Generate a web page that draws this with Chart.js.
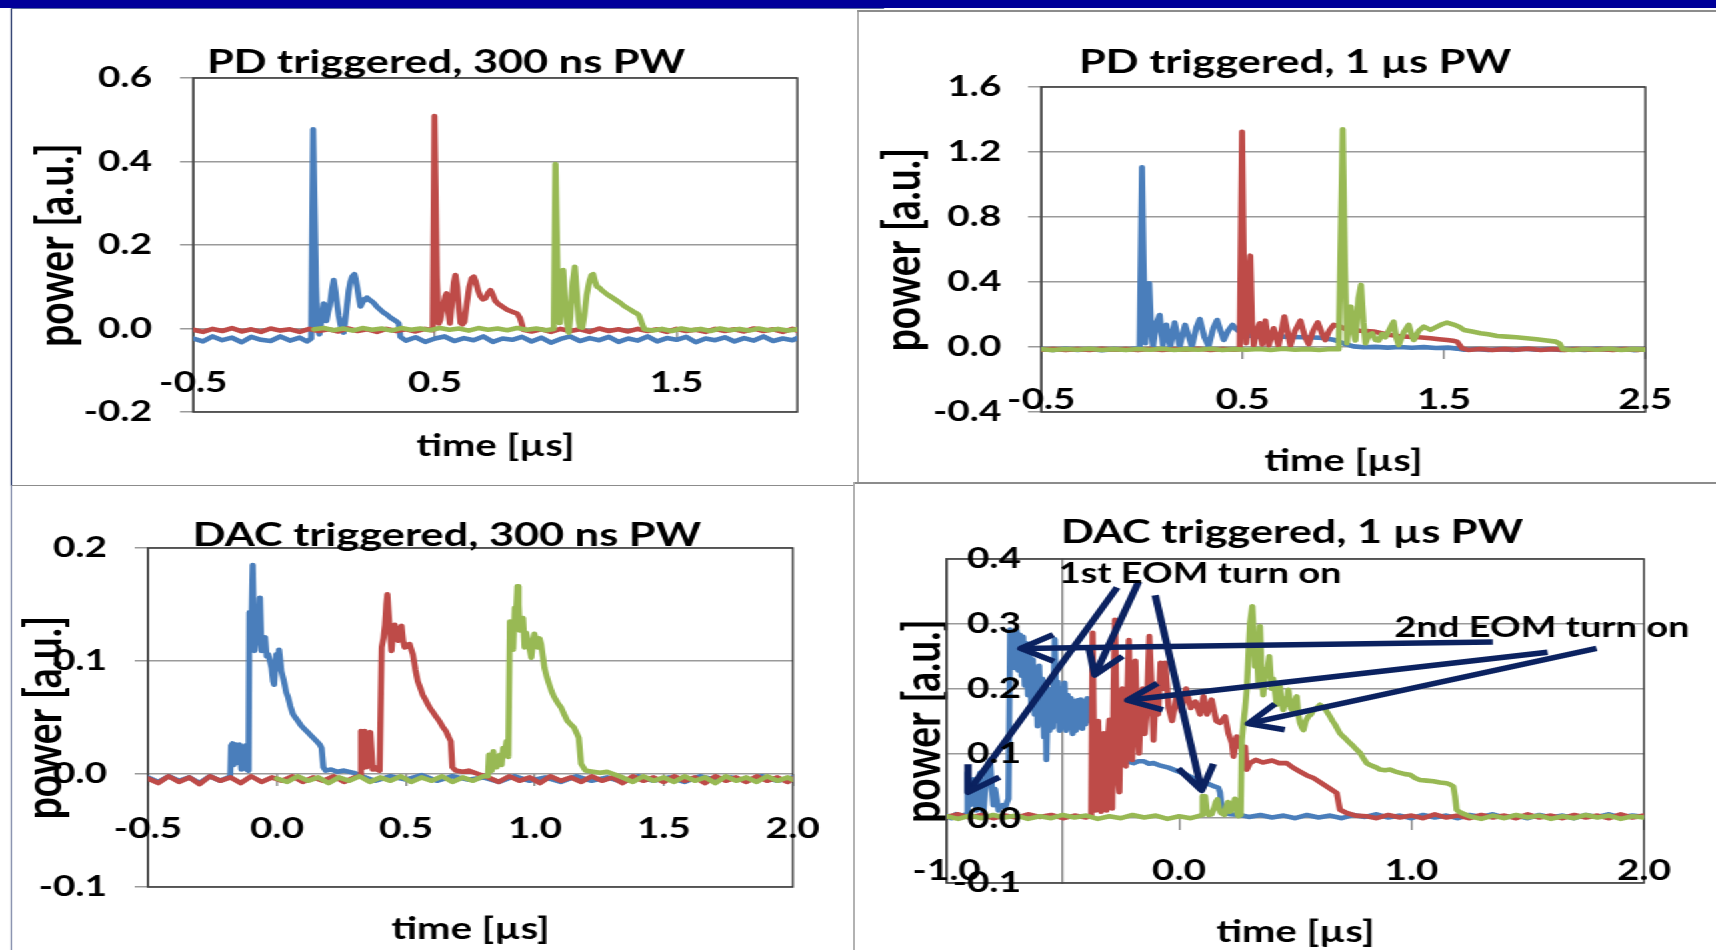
<!DOCTYPE html>
<html><head><meta charset="utf-8">
<script src="https://cdn.jsdelivr.net/npm/chart.js"></script>
<style>
html,body{margin:0;padding:0;background:#fff;width:1716px;height:950px;overflow:hidden;}
#stage{position:absolute;left:0;top:0;width:1287px;height:950px;transform:scaleX(1.3333333);transform-origin:0 0;}
.ln{position:absolute;}
canvas{position:absolute;}
</style></head><body>
<div id="stage">
  <div class="ln" style="left:0;top:0;width:1287px;height:7.5px;background:#000099"></div>
  <div class="ln" style="left:7.5px;top:8px;width:655.5px;height:1.2px;background:#5d6f9e"></div>
  <div class="ln" style="left:7.5px;top:8.5px;width:1.6px;height:476px;background:#1b2d63"></div>
  <div class="ln" style="left:7.5px;top:484.5px;width:632.5px;height:1.5px;background:#8c8c8c"></div>
  <div class="ln" style="left:642.75px;top:10px;width:1.5px;height:473px;background:#8c8c8c"></div>
  <div class="ln" style="left:642.75px;top:10px;width:644.25px;height:1.5px;background:#8c8c8c"></div>
  <div class="ln" style="left:640.5px;top:482px;width:646.5px;height:1.5px;background:#8c8c8c"></div>
  <div class="ln" style="left:640px;top:482px;width:1.2px;height:468px;background:#8c8c8c"></div>
  <div class="ln" style="left:7.5px;top:485px;width:1.5px;height:465px;background:#7c86a6"></div>
  <canvas id="c1" width="640" height="474" style="left:0px;top:10px;width:640px;height:474px"></canvas>
  <canvas id="c2" width="644" height="471" style="left:643px;top:11px;width:644px;height:471px"></canvas>
  <canvas id="c3" width="640" height="464" style="left:0px;top:486px;width:640px;height:464px"></canvas>
  <canvas id="c4" width="646" height="467" style="left:641px;top:483px;width:646px;height:467px"></canvas>
</div>
<script>
// ---------------- DATA ([time µs, power a.u.]) ----------------
const pdShortXTicks = [-0.5, 0.5, 1.5];
const pdShortYTicks = [-0.2, 0.0, 0.2, 0.4, 0.6];
const pdShortBlue = [
[-0.50,-0.024],[-0.46,-0.031],[-0.42,-0.019],[-0.38,-0.028],[-0.34,-0.022],[-0.30,-0.033],[-0.26,-0.020],[-0.22,-0.027],[-0.18,-0.030],[-0.14,-0.019],[-0.10,-0.029],[-0.06,-0.022],[-0.03,-0.031],[-0.012,-0.024],
[-0.004,0.477],[0.008,0.100],[0.014,0.002],[0.022,-0.014],[0.031,0.025],[0.040,0.060],[0.046,0.030],[0.051,0.018],[0.058,0.040],[0.065,0.055],[0.073,0.090],[0.081,0.116],[0.088,0.090],[0.095,0.058],[0.102,0.030],[0.109,0.010],[0.116,-0.006],[0.122,-0.010],[0.129,0.020],[0.136,0.055],[0.143,0.090],[0.150,0.112],[0.158,0.125],[0.167,0.130],[0.172,0.118],[0.178,0.100],[0.185,0.075],[0.192,0.053],[0.200,0.062],[0.206,0.070],[0.212,0.068],[0.219,0.074],[0.226,0.070],[0.236,0.066],[0.247,0.061],[0.260,0.052],[0.274,0.045],[0.288,0.038],[0.302,0.033],[0.316,0.026],[0.330,0.021],[0.343,0.016],[0.350,0.012],[0.357,-0.020],
[0.38,-0.029],[0.42,-0.021],[0.46,-0.032],[0.50,-0.024],[0.54,-0.019],[0.58,-0.030],[0.62,-0.023],[0.66,-0.028],[0.70,-0.019],[0.74,-0.032],[0.78,-0.024],[0.82,-0.027],[0.86,-0.020],[0.90,-0.031],[0.94,-0.022],[0.98,-0.034],[1.02,-0.025],[1.06,-0.019],[1.10,-0.030],[1.14,-0.023],[1.18,-0.028],[1.22,-0.020],[1.26,-0.032],[1.30,-0.024],[1.34,-0.029],[1.38,-0.019],[1.42,-0.031],[1.46,-0.023],[1.50,-0.027],[1.54,-0.020],[1.58,-0.033],[1.62,-0.024],[1.66,-0.028],[1.70,-0.021],[1.74,-0.031],[1.78,-0.023],[1.82,-0.029],[1.86,-0.019],[1.90,-0.030],[1.94,-0.024],[1.98,-0.028],[2.00,-0.023]
];
const pdShortRed = [
[-0.50,-0.003],[-0.46,-0.008],[-0.42,-0.001],[-0.38,-0.006],[-0.34,0.001],[-0.30,-0.007],[-0.26,-0.002],[-0.22,-0.008],[-0.18,0.000],[-0.14,-0.005],[-0.10,-0.002],[-0.06,-0.008],[-0.02,-0.001],[0.02,-0.006],[0.06,-0.002],[0.10,-0.007],[0.14,0.000],[0.18,-0.006],[0.22,-0.002],[0.26,-0.008],[0.30,-0.001],[0.34,-0.006],[0.38,-0.002],[0.42,-0.007],[0.46,-0.001],[0.491,-0.004],
[0.498,0.509],[0.508,0.120],[0.516,0.012],[0.522,0.020],[0.530,0.045],[0.537,0.060],[0.543,0.078],[0.548,0.084],[0.554,0.045],[0.562,0.012],[0.570,0.060],[0.578,0.110],[0.585,0.128],[0.592,0.100],[0.599,0.050],[0.606,0.013],[0.614,0.010],[0.622,0.016],[0.632,0.060],[0.642,0.100],[0.652,0.120],[0.661,0.124],[0.669,0.112],[0.679,0.090],[0.688,0.077],[0.698,0.070],[0.709,0.072],[0.720,0.085],[0.730,0.092],[0.740,0.080],[0.750,0.066],[0.760,0.060],[0.780,0.052],[0.799,0.045],[0.820,0.040],[0.840,0.036],[0.852,0.025],[0.860,0.010],[0.866,-0.003],
[0.90,-0.007],[0.94,-0.002],[0.98,-0.008],[1.02,-0.001],[1.06,-0.006],[1.10,-0.002],[1.14,-0.008],[1.18,0.000],[1.22,-0.006],[1.26,-0.002],[1.30,-0.007],[1.34,-0.001],[1.38,-0.006],[1.42,-0.002],[1.46,-0.008],[1.50,-0.001],[1.54,-0.006],[1.58,-0.003],[1.62,-0.008],[1.66,-0.001],[1.70,-0.006],[1.74,-0.002],[1.78,-0.007],[1.82,0.000],[1.86,-0.006],[1.90,-0.002],[1.94,-0.008],[1.98,-0.001],[2.00,-0.005]
];
const pdShortGreen = [
[0.00,-0.002],[0.04,0.001],[0.08,-0.004],[0.12,0.000],[0.16,-0.005],[0.20,0.001],[0.24,-0.003],[0.28,0.000],[0.32,-0.005],[0.36,0.001],[0.40,-0.003],[0.44,0.000],[0.48,-0.004],[0.52,0.001],[0.56,-0.003],[0.60,0.000],[0.64,-0.005],[0.68,0.001],[0.72,-0.003],[0.76,0.000],[0.80,-0.004],[0.84,0.001],[0.88,-0.003],[0.92,0.000],[0.96,-0.004],[0.992,-0.001],
[0.999,0.394],[1.008,0.120],[1.017,0.013],[1.024,0.075],[1.031,0.140],[1.039,0.065],[1.047,0.012],[1.054,-0.010],[1.061,0.030],[1.070,0.110],[1.079,0.148],[1.088,0.080],[1.095,0.020],[1.100,0.004],[1.110,0.002],[1.118,0.030],[1.128,0.080],[1.140,0.115],[1.148,0.128],[1.155,0.130],[1.163,0.112],[1.171,0.100],[1.180,0.098],[1.190,0.092],[1.199,0.088],[1.212,0.082],[1.226,0.077],[1.240,0.072],[1.255,0.066],[1.268,0.061],[1.283,0.054],[1.297,0.049],[1.309,0.045],[1.322,0.040],[1.335,0.036],[1.344,0.032],[1.352,0.020],[1.358,0.010],[1.367,-0.002],
[1.40,-0.005],[1.44,-0.001],[1.48,-0.006],[1.52,0.000],[1.56,-0.004],[1.60,-0.001],[1.64,-0.006],[1.68,0.000],[1.72,-0.004],[1.76,-0.001],[1.80,-0.005],[1.84,0.000],[1.88,-0.004],[1.92,-0.001],[1.96,-0.005],[2.00,-0.002]
];

const pdLongXTicks = [-0.5, 0.5, 1.5, 2.5];
const pdLongYTicks = [-0.4, 0.0, 0.4, 0.8, 1.2, 1.6];
const pdLongBlue = [
[-0.50,-0.013],[-0.44,-0.019],[-0.38,-0.011],[-0.32,-0.018],[-0.26,-0.012],[-0.20,-0.020],[-0.14,-0.013],[-0.08,-0.017],[-0.04,-0.011],[-0.012,-0.016],
[0.000,1.106],[0.008,0.500],[0.017,0.023],[0.026,0.250],[0.036,0.392],[0.046,0.100],[0.055,0.002],[0.072,0.150],[0.088,0.197],[0.097,0.080],[0.104,0.012],[0.121,0.136],[0.141,0.002],[0.162,0.150],[0.187,0.002],[0.214,0.136],[0.248,0.002],[0.270,0.120],[0.287,0.172],[0.310,0.060],[0.331,0.005],[0.355,0.120],[0.373,0.166],[0.390,0.100],[0.406,0.043],[0.428,0.100],[0.450,0.136],[0.472,0.105],[0.500,0.080],[0.550,0.066],[0.600,0.062],[0.650,0.066],[0.700,0.064],[0.750,0.062],[0.800,0.060],[0.850,0.058],[0.900,0.056],[0.950,0.045],[1.000,0.023],[1.050,0.004],[1.100,-0.002],[1.160,0.001],[1.220,-0.004],[1.280,0.000],[1.340,-0.005],[1.400,-0.001],[1.460,-0.006],[1.520,-0.004],[1.565,-0.010],
[1.60,-0.017],[1.66,-0.012],[1.72,-0.019],[1.78,-0.013],[1.84,-0.018],[1.90,-0.011],[1.96,-0.017],[2.02,-0.012],[2.08,-0.019],[2.14,-0.013],[2.20,-0.018],[2.26,-0.011],[2.32,-0.017],[2.38,-0.012],[2.44,-0.019],[2.50,-0.014]
];
const pdLongRed = [
[-0.50,-0.017],[-0.44,-0.012],[-0.38,-0.019],[-0.32,-0.013],[-0.26,-0.018],[-0.20,-0.011],[-0.14,-0.017],[-0.08,-0.013],[-0.02,-0.019],[0.04,-0.012],[0.10,-0.018],[0.16,-0.013],[0.22,-0.017],[0.28,-0.011],[0.34,-0.018],[0.40,-0.013],[0.46,-0.017],[0.485,-0.014],
[0.497,1.325],[0.507,0.350],[0.517,0.023],[0.528,0.420],[0.538,0.562],[0.547,0.120],[0.555,0.010],[0.570,0.100],[0.585,0.146],[0.597,0.015],[0.613,0.162],[0.630,0.010],[0.654,0.115],[0.678,0.008],[0.707,0.187],[0.737,0.010],[0.760,0.100],[0.787,0.162],[0.810,0.060],[0.828,0.018],[0.850,0.100],[0.873,0.152],[0.895,0.080],[0.910,0.043],[0.930,0.100],[0.952,0.136],[0.985,0.126],[1.018,0.105],[1.050,0.108],[1.080,0.100],[1.115,0.098],[1.151,0.095],[1.190,0.085],[1.234,0.074],[1.275,0.068],[1.317,0.064],[1.375,0.060],[1.433,0.054],[1.475,0.048],[1.515,0.043],[1.545,0.038],[1.565,0.033],[1.590,-0.008],
[1.62,-0.018],[1.68,-0.012],[1.74,-0.019],[1.80,-0.013],[1.86,-0.017],[1.92,-0.011],[1.98,-0.018],[2.04,-0.013],[2.10,-0.019],[2.16,-0.012],[2.22,-0.017],[2.28,-0.013],[2.34,-0.019],[2.40,-0.012],[2.46,-0.018],[2.50,-0.014]
];
const pdLongGreen = [
[-0.50,-0.014],[-0.44,-0.019],[-0.38,-0.012],[-0.32,-0.017],[-0.26,-0.011],[-0.20,-0.018],[-0.14,-0.013],[-0.08,-0.019],[-0.02,-0.012],[0.04,-0.017],[0.10,-0.011],[0.16,-0.018],[0.22,-0.013],[0.28,-0.017],[0.34,-0.011],[0.40,-0.019],[0.46,-0.013],[0.52,-0.017],[0.58,-0.012],[0.64,-0.018],[0.70,-0.011],[0.76,-0.017],[0.82,-0.013],[0.88,-0.018],[0.94,-0.012],[0.977,-0.014],
[0.997,1.340],[1.008,0.500],[1.018,0.023],[1.028,0.200],[1.038,0.248],[1.048,0.100],[1.060,0.040],[1.075,0.300],[1.088,0.382],[1.100,0.150],[1.110,0.023],[1.125,0.070],[1.143,0.084],[1.160,0.043],[1.176,0.040],[1.192,0.080],[1.209,0.060],[1.230,0.110],[1.250,0.156],[1.262,0.060],[1.275,0.012],[1.300,0.090],[1.325,0.136],[1.338,0.080],[1.350,0.043],[1.375,0.100],[1.400,0.125],[1.433,0.105],[1.466,0.125],[1.490,0.140],[1.515,0.150],[1.548,0.138],[1.575,0.125],[1.598,0.105],[1.640,0.095],[1.681,0.085],[1.720,0.078],[1.764,0.068],[1.810,0.064],[1.860,0.060],[1.910,0.054],[1.960,0.048],[2.010,0.040],[2.055,0.033],[2.075,0.020],[2.090,-0.014],
[2.14,-0.018],[2.20,-0.012],[2.26,-0.017],[2.32,-0.011],[2.38,-0.018],[2.44,-0.013],[2.50,-0.016]
];

const dacShortXTicks = [-0.5, 0.0, 0.5, 1.0, 1.5, 2.0];
const dacShortYTicks = [-0.1, 0.0, 0.1, 0.2];
const dacShortBlue = [
[-0.50,-0.003],[-0.46,-0.007],[-0.42,-0.002],[-0.38,-0.006],[-0.34,-0.003],[-0.30,-0.008],[-0.26,-0.002],[-0.22,-0.006],[-0.19,-0.003],[-0.181,-0.002],
[-0.178,0.025],[-0.172,0.027],[-0.167,0.008],[-0.160,0.026],[-0.153,0.010],[-0.145,0.026],[-0.138,0.004],[-0.130,0.022],[-0.122,0.025],[-0.117,0.004],[-0.110,0.003],
[-0.107,0.143],[-0.100,0.118],[-0.094,0.185],[-0.087,0.109],[-0.082,0.120],[-0.078,0.132],[-0.072,0.120],[-0.066,0.156],[-0.060,0.109],[-0.053,0.118],[-0.046,0.121],[-0.040,0.104],[-0.034,0.106],[-0.027,0.100],[-0.021,0.094],[-0.015,0.082],[-0.011,0.079],[-0.006,0.095],[-0.002,0.106],[0.003,0.098],[0.008,0.110],[0.013,0.100],[0.017,0.091],[0.024,0.085],[0.030,0.079],[0.036,0.072],[0.043,0.068],[0.052,0.060],[0.062,0.053],[0.071,0.050],[0.081,0.047],[0.093,0.043],[0.106,0.040],[0.119,0.037],[0.132,0.034],[0.145,0.031],[0.158,0.028],[0.166,0.026],[0.173,0.023],[0.180,0.006],[0.189,0.003],[0.210,0.004],[0.234,0.002],[0.260,0.003],[0.298,0.001],[0.33,-0.002],
[0.38,-0.006],[0.44,-0.002],[0.50,-0.005],[0.56,-0.001],[0.62,-0.006],[0.68,-0.002],[0.74,-0.005],[0.80,-0.003],[0.86,-0.007],[0.92,-0.002],[0.98,-0.006],[1.04,-0.003],[1.10,-0.007],[1.16,-0.002],[1.22,-0.006],[1.28,-0.003],[1.34,-0.007],[1.40,-0.002],[1.46,-0.006],[1.52,-0.003],[1.58,-0.007],[1.64,-0.002],[1.70,-0.005],[1.76,-0.003],[1.82,-0.006],[1.88,-0.002],[1.94,-0.006],[2.00,-0.003]
];
const dacShortRed = [
[-0.50,-0.004],[-0.46,-0.008],[-0.42,-0.002],[-0.38,-0.007],[-0.34,-0.003],[-0.30,-0.009],[-0.26,-0.002],[-0.22,-0.006],[-0.18,-0.003],[-0.14,-0.008],[-0.10,-0.002],[-0.06,-0.007],[-0.02,-0.003],[0.02,-0.006],[0.06,-0.002],[0.10,-0.007],[0.14,-0.003],[0.18,-0.006],[0.22,-0.002],[0.26,-0.007],[0.30,-0.003],[0.323,-0.002],
[0.326,0.038],[0.332,0.005],[0.340,0.038],[0.348,0.006],[0.356,0.030],[0.362,0.037],[0.371,0.004],[0.380,0.006],[0.387,0.004],[0.398,0.003],
[0.406,0.112],[0.413,0.120],[0.419,0.132],[0.424,0.150],[0.428,0.159],[0.436,0.132],[0.444,0.109],[0.450,0.125],[0.457,0.132],[0.464,0.120],[0.470,0.118],[0.477,0.128],[0.483,0.131],[0.489,0.118],[0.495,0.112],[0.505,0.114],[0.514,0.115],[0.521,0.110],[0.527,0.106],[0.537,0.092],[0.546,0.082],[0.556,0.076],[0.565,0.070],[0.575,0.066],[0.584,0.062],[0.594,0.058],[0.604,0.055],[0.616,0.051],[0.629,0.047],[0.642,0.042],[0.655,0.038],[0.665,0.033],[0.674,0.029],[0.680,0.006],[0.693,0.003],[0.720,0.002],[0.743,0.003],[0.780,0.000],[0.82,-0.003],
[0.86,-0.007],[0.90,-0.002],[0.94,-0.006],[0.98,-0.003],[1.02,-0.008],[1.06,-0.002],[1.10,-0.006],[1.14,-0.003],[1.18,-0.007],[1.22,-0.002],[1.26,-0.006],[1.30,-0.003],[1.34,-0.008],[1.38,-0.002],[1.42,-0.006],[1.46,-0.003],[1.50,-0.007],[1.54,-0.002],[1.58,-0.006],[1.62,-0.003],[1.66,-0.008],[1.70,-0.002],[1.74,-0.006],[1.78,-0.003],[1.82,-0.007],[1.86,-0.002],[1.90,-0.006],[1.94,-0.003],[1.98,-0.007],[2.00,-0.004]
];
const dacShortGreen = [
[0.00,-0.004],[0.04,-0.007],[0.08,-0.002],[0.12,-0.006],[0.16,-0.003],[0.20,-0.008],[0.24,-0.003],[0.28,-0.006],[0.32,-0.002],[0.36,-0.007],[0.40,-0.003],[0.44,-0.006],[0.48,-0.002],[0.52,-0.007],[0.56,-0.003],[0.60,-0.006],[0.64,-0.002],[0.68,-0.007],[0.72,-0.003],[0.76,-0.006],[0.80,-0.002],[0.818,-0.002],
[0.822,0.017],[0.828,0.008],[0.833,0.003],[0.839,0.020],[0.846,0.010],[0.852,0.006],[0.859,0.015],[0.865,0.017],[0.871,0.008],[0.877,0.023],[0.884,0.020],[0.890,0.029],[0.897,0.015],
[0.903,0.135],[0.910,0.128],[0.916,0.110],[0.922,0.147],[0.927,0.140],[0.932,0.166],[0.937,0.150],[0.941,0.127],[0.947,0.130],[0.954,0.138],[0.960,0.112],[0.966,0.125],[0.973,0.118],[0.980,0.110],[0.986,0.103],[0.992,0.115],[0.998,0.124],[1.005,0.118],[1.011,0.112],[1.018,0.120],[1.024,0.115],[1.031,0.104],[1.037,0.094],[1.046,0.086],[1.056,0.079],[1.065,0.073],[1.075,0.068],[1.088,0.063],[1.101,0.059],[1.113,0.053],[1.126,0.047],[1.139,0.044],[1.152,0.041],[1.162,0.036],[1.170,0.032],[1.179,0.009],[1.196,0.003],[1.225,0.002],[1.253,0.001],[1.280,0.002],[1.304,0.000],[1.34,-0.003],
[1.38,-0.007],[1.42,-0.002],[1.46,-0.006],[1.50,-0.003],[1.54,-0.007],[1.58,-0.002],[1.62,-0.006],[1.66,-0.003],[1.70,-0.008],[1.74,-0.002],[1.78,-0.006],[1.82,-0.003],[1.86,-0.007],[1.90,-0.002],[1.94,-0.006],[1.98,-0.003],[2.00,-0.005]
];

const dacLongXTicks = [-1.0, 0.0, 1.0, 2.0];
const dacLongYTicks = [-0.1, 0.0, 0.1, 0.2, 0.3, 0.4];
const dacLongBlue = [
[-1.00,0.004],[-0.98,0.000],[-0.96,0.006],[-0.94,0.001],[-0.925,0.005],[-0.913,0.002],
[-0.910,0.070],[-0.905,0.040],[-0.899,0.020],[-0.892,0.055],[-0.885,0.060],[-0.878,0.030],[-0.871,0.012],[-0.864,0.050],[-0.856,0.070],[-0.849,0.030],[-0.842,0.008],[-0.835,0.040],[-0.828,0.060],[-0.820,0.085],[-0.813,0.090],[-0.806,0.050],[-0.799,0.020],[-0.792,0.045],[-0.785,0.030],[-0.777,0.012],[-0.770,0.018],[-0.760,0.020],[-0.748,0.016],[-0.740,0.025],[-0.734,0.030],
[-0.727,0.291],[-0.720,0.240],[-0.713,0.285],[-0.706,0.232],[-0.699,0.290],[-0.692,0.228],[-0.685,0.283],[-0.678,0.220],[-0.671,0.280],[-0.664,0.205],[-0.657,0.270],[-0.650,0.190],[-0.643,0.255],[-0.636,0.175],[-0.629,0.245],[-0.622,0.160],[-0.615,0.230],[-0.609,0.142],[-0.602,0.235],[-0.595,0.150],[-0.588,0.215],[-0.581,0.125],[-0.575,0.205],[-0.571,0.090],[-0.564,0.200],[-0.557,0.135],[-0.550,0.190],[-0.543,0.140],[-0.535,0.276],[-0.528,0.150],[-0.521,0.210],[-0.514,0.135],[-0.507,0.200],[-0.500,0.140],[-0.493,0.209],[-0.486,0.135],[-0.479,0.190],[-0.472,0.140],[-0.465,0.185],[-0.458,0.130],[-0.451,0.180],[-0.444,0.135],[-0.437,0.182],[-0.430,0.140],[-0.423,0.183],[-0.416,0.138],[-0.409,0.180],[-0.402,0.145],[-0.395,0.185],[-0.388,0.150],[-0.380,0.160],[-0.370,0.140],[-0.360,0.130],[-0.350,0.128],[-0.340,0.121],[-0.325,0.118],[-0.311,0.116],[-0.296,0.110],[-0.282,0.106],[-0.260,0.098],[-0.239,0.090],[-0.218,0.087],[-0.196,0.085],[-0.175,0.088],[-0.153,0.088],[-0.130,0.084],[-0.110,0.085],[-0.088,0.082],[-0.067,0.080],[-0.045,0.078],[-0.024,0.075],[0.005,0.071],[0.033,0.067],[0.055,0.063],[0.076,0.059],[0.098,0.056],[0.119,0.054],[0.145,0.050],[0.169,0.047],[0.176,0.040],[0.183,0.018],[0.191,0.008],[0.220,0.006],[0.262,0.005],[0.30,0.002],
[0.35,0.005],[0.40,0.001],[0.45,0.004],[0.50,0.000],[0.55,0.005],[0.60,0.001],[0.65,0.004],[0.70,0.000],[0.75,0.005],[0.80,0.002],[0.85,0.006],[0.90,0.001],[0.95,0.004],[1.00,0.000],[1.05,0.005],[1.10,0.001],[1.15,0.004],[1.20,0.000],[1.25,0.005],[1.30,0.002],[1.35,0.006],[1.40,0.001],[1.45,0.004],[1.50,0.000],[1.55,0.005],[1.60,0.001],[1.65,0.004],[1.70,0.000],[1.75,0.005],[1.80,0.002],[1.85,0.006],[1.90,0.001],[1.95,0.004],[2.00,0.002]
];
const dacLongRed = [
[-1.00,0.002],[-0.95,0.006],[-0.90,0.001],[-0.85,0.005],[-0.80,0.000],[-0.75,0.004],[-0.70,0.001],[-0.65,0.006],[-0.60,0.002],[-0.55,0.005],[-0.50,0.000],[-0.45,0.004],[-0.40,0.001],[-0.378,0.004],
[-0.372,0.286],[-0.366,0.120],[-0.360,0.012],[-0.354,0.080],[-0.348,0.150],[-0.342,0.060],[-0.336,0.010],[-0.330,0.090],[-0.324,0.131],[-0.318,0.040],[-0.312,0.012],[-0.306,0.120],[-0.300,0.152],[-0.294,0.050],[-0.288,0.015],[-0.282,0.200],[-0.276,0.306],[-0.270,0.180],[-0.263,0.060],[-0.257,0.040],[-0.250,0.180],[-0.244,0.200],[-0.236,0.100],[-0.229,0.080],[-0.222,0.200],[-0.216,0.275],[-0.209,0.150],[-0.202,0.090],[-0.196,0.180],[-0.188,0.243],[-0.180,0.140],[-0.172,0.100],[-0.164,0.180],[-0.156,0.200],[-0.148,0.130],[-0.140,0.160],[-0.128,0.281],[-0.118,0.200],[-0.110,0.120],[-0.100,0.200],[-0.090,0.160],[-0.080,0.240],[-0.070,0.200],[-0.060,0.240],[-0.045,0.170],[-0.030,0.150],[-0.010,0.190],[0.010,0.165],[0.030,0.200],[0.050,0.170],[0.070,0.180],[0.090,0.160],[0.105,0.188],[0.120,0.160],[0.140,0.183],[0.160,0.150],[0.176,0.147],[0.198,0.157],[0.212,0.131],[0.227,0.116],[0.234,0.095],[0.248,0.126],[0.262,0.110],[0.284,0.110],[0.291,0.075],[0.305,0.085],[0.330,0.090],[0.360,0.086],[0.400,0.089],[0.430,0.085],[0.463,0.085],[0.490,0.078],[0.520,0.072],[0.550,0.066],[0.578,0.062],[0.605,0.056],[0.635,0.049],[0.660,0.043],[0.678,0.039],[0.692,0.013],[0.721,0.008],[0.760,0.004],[0.807,0.003],
[0.85,0.000],[0.90,0.005],[0.95,0.001],[1.00,0.004],[1.05,0.000],[1.10,0.006],[1.15,0.001],[1.20,0.004],[1.25,0.000],[1.30,0.005],[1.35,0.001],[1.40,0.004],[1.45,0.000],[1.50,0.006],[1.55,0.001],[1.60,0.004],[1.65,0.000],[1.70,0.005],[1.75,0.001],[1.80,0.004],[1.85,0.000],[1.90,0.006],[1.95,0.001],[2.00,0.004]
];
const dacLongGreen = [
[-1.00,0.003],[-0.95,-0.001],[-0.90,0.004],[-0.85,0.000],[-0.80,0.005],[-0.75,0.001],[-0.70,0.004],[-0.65,-0.001],[-0.60,0.003],[-0.55,0.000],[-0.50,0.005],[-0.45,0.001],[-0.40,0.004],[-0.35,-0.001],[-0.30,0.003],[-0.25,0.000],[-0.20,0.005],[-0.15,0.001],[-0.10,0.004],[-0.05,-0.001],[0.00,0.003],[0.05,0.000],[0.09,0.004],
[0.097,0.005],[0.101,0.034],[0.106,0.015],[0.112,0.034],[0.120,0.010],[0.127,0.005],[0.140,0.006],[0.150,0.015],[0.158,0.025],[0.165,0.029],[0.172,0.015],[0.180,0.008],[0.195,0.005],[0.203,0.018],[0.210,0.025],[0.220,0.010],[0.230,0.020],[0.240,0.030],[0.248,0.010],[0.255,0.003],[0.265,0.005],
[0.270,0.121],[0.277,0.147],[0.284,0.170],[0.291,0.198],[0.298,0.250],[0.305,0.301],[0.315,0.327],[0.322,0.280],[0.326,0.234],[0.333,0.270],[0.341,0.210],[0.348,0.296],[0.355,0.224],[0.362,0.190],[0.370,0.230],[0.377,0.219],[0.388,0.250],[0.398,0.200],[0.405,0.215],[0.412,0.198],[0.420,0.175],[0.427,0.195],[0.434,0.203],[0.441,0.180],[0.448,0.167],[0.456,0.185],[0.463,0.175],[0.470,0.198],[0.480,0.170],[0.490,0.165],[0.498,0.180],[0.506,0.188],[0.513,0.160],[0.520,0.147],[0.528,0.140],[0.535,0.136],[0.545,0.150],[0.556,0.157],[0.567,0.160],[0.578,0.167],[0.592,0.170],[0.606,0.175],[0.617,0.172],[0.627,0.170],[0.638,0.163],[0.649,0.157],[0.660,0.150],[0.670,0.145],[0.681,0.138],[0.692,0.131],[0.706,0.126],[0.721,0.121],[0.735,0.116],[0.750,0.111],[0.764,0.106],[0.778,0.101],[0.792,0.093],[0.807,0.085],[0.822,0.082],[0.836,0.080],[0.850,0.078],[0.864,0.075],[0.886,0.074],[0.908,0.075],[0.930,0.072],[0.951,0.070],[0.972,0.068],[0.994,0.067],[1.015,0.062],[1.036,0.059],[1.065,0.058],[1.094,0.057],[1.122,0.055],[1.151,0.054],[1.166,0.052],[1.180,0.049],[1.187,0.034],[1.194,0.013],[1.209,0.009],[1.25,0.003],
[1.30,-0.001],[1.35,0.004],[1.40,0.000],[1.45,0.005],[1.50,0.001],[1.55,0.004],[1.60,-0.001],[1.65,0.003],[1.70,0.000],[1.75,0.005],[1.80,0.001],[1.85,0.004],[1.90,-0.001],[1.95,0.003],[2.00,0.001]
];

// annotation arrows in data units of the DAC 1 µs panel: [fromT, fromP, toT, toP]
const eomArrows = [
[-0.267,0.356,-0.908,0.040],
[-0.174,0.365,-0.363,0.221],
[-0.103,0.344,0.097,0.043],
[1.350,0.272,-0.681,0.262],
[1.585,0.256,-0.221,0.182],
[1.796,0.262,0.298,0.146]
];
const eomLabels = [["1st EOM turn on", 0.090, 0.363], ["2nd EOM turn on", 1.561, 0.280]];

// ---------------- RENDERING ----------------
const FONT = "Lato, 'Open Sans', 'DejaVu Sans', sans-serif";
const COLORS = {blue: '#4A7EBB', red: '#BE4B48', green: '#98B954'};
const GRID = '#9a9a9a';
Chart.defaults.font.family = FONT;

const toXY = arr => arr.map(([x, y]) => ({x, y}));

const titlePlugin = {
  id: 'panelTitle',
  afterDraw(chart, args, o) {
    const ctx = chart.ctx;
    ctx.save();
    ctx.font = `bold ${o.size}px ${FONT}`;
    ctx.fillStyle = '#000';
    ctx.textAlign = 'center';
    ctx.textBaseline = 'alphabetic';
    ctx.fillText(o.text, o.x, o.y);
    ctx.restore();
  }
};
const framePlugin = {
  id: 'plotFrame',
  beforeDatasetsDraw(chart) {
    const {ctx, chartArea: a} = chart;
    ctx.save();
    ctx.strokeStyle = '#3c3c3c';
    ctx.lineWidth = 1.5;
    ctx.strokeRect(a.left, a.top, a.right - a.left, a.bottom - a.top);
    ctx.restore();
  }
};
const arrowPlugin = {
  id: 'eomArrows',
  afterDatasetsDraw(chart, args, o) {
    if (!o.arrows) return;
    const {ctx, scales: {x, y}} = chart;
    ctx.save();
    ctx.strokeStyle = o.color;
    ctx.lineWidth = o.width;
    ctx.lineCap = 'butt';
    ctx.lineJoin = 'round';
    for (const [t0, p0, t1, p1] of o.arrows) {
      const x0 = x.getPixelForValue(t0), y0 = y.getPixelForValue(p0);
      const x1 = x.getPixelForValue(t1), y1 = y.getPixelForValue(p1);
      ctx.beginPath(); ctx.moveTo(x0, y0); ctx.lineTo(x1, y1); ctx.stroke();
      const ang = Math.atan2(y0 - y1, x0 - x1);
      ctx.beginPath();
      ctx.moveTo(x1 + o.head * Math.cos(ang + 0.5), y1 + o.head * Math.sin(ang + 0.5));
      ctx.lineTo(x1, y1);
      ctx.lineTo(x1 + o.head * Math.cos(ang - 0.5), y1 + o.head * Math.sin(ang - 0.5));
      ctx.stroke();
    }
    ctx.font = `bold ${o.fontSize}px ${FONT}`;
    ctx.fillStyle = '#000';
    ctx.textAlign = 'center';
    ctx.textBaseline = 'alphabetic';
    for (const [txt, t, p] of o.labels) {
      ctx.fillText(txt, x.getPixelForValue(t), y.getPixelForValue(p));
    }
    ctx.restore();
  }
};

function buildChart(id, p) {
  const common = {borderWidth: 4.6, pointRadius: 0, pointHoverRadius: 0, tension: 0, fill: false, borderJoinStyle: 'round', borderCapStyle: 'round'};
  const datasets = [
    Object.assign({label: 'green', data: toXY(p.green), borderColor: COLORS.green, order: 0}, common),
    Object.assign({label: 'red', data: toXY(p.red), borderColor: COLORS.red, order: 1}, common),
    Object.assign({label: 'blue', data: toXY(p.blue), borderColor: COLORS.blue, order: 2}, common)
  ];
  const tickFont = {family: FONT, size: 29, weight: 'bold'};
  const fmt = v => Number(v).toFixed(1);
  const scales = {
    x: {
      type: 'linear', axis: 'x', position: {y: 0}, min: p.xMin, max: p.xMax,
      afterBuildTicks: s => { s.ticks = p.xTicks.map(v => ({value: v})); },
      ticks: {callback: fmt, font: tickFont, color: '#000', padding: p.xLabelPad, maxRotation: 0, minRotation: 0, autoSkip: false, z: 1},
      grid: {display: true, drawOnChartArea: false, drawTicks: true, tickLength: 12, color: '#8c8c8c', lineWidth: 1.5},
      border: {display: false}
    },
    xt: {
      type: 'linear', axis: 'x', position: 'bottom', min: p.xMin, max: p.xMax,
      ticks: {display: false}, grid: {display: false}, border: {display: false},
      title: {display: true, text: 'time [µs]', color: '#000', font: {family: FONT, size: 30, weight: 'bold'}, padding: {top: 0, bottom: p.xTitlePad}},
      afterFit: s => { s.height = p.xtHeight; }
    },
    y: {
      type: 'linear', axis: 'y', position: 'left', min: p.yMin, max: p.yMax,
      afterBuildTicks: s => { s.ticks = p.yTicks.map(v => ({value: v})); },
      ticks: {display: p.yLabelAt === undefined, callback: fmt, font: tickFont, color: '#000', padding: p.yLabelPad, autoSkip: false},
      grid: {color: GRID, lineWidth: 1.5, drawTicks: p.yDrawTicks, tickLength: 10},
      border: {display: true, color: '#6f6f6f', width: 1.5},
      title: {display: true, text: 'power [a.u.]', color: '#000', font: {family: FONT, size: 39, weight: 'bold'}, padding: {top: p.yTitlePad, bottom: 0}},
      afterFit: s => { s.width = p.yWidth; }
    }
  };
  if (p.yAxisAt !== undefined) {
    scales.ya = {
      type: 'linear', axis: 'y', position: {x: p.yAxisAt}, min: p.yMin, max: p.yMax,
      ticks: {display: false}, grid: {display: false},
      border: {display: true, color: '#8c8c8c', width: 1.5}
    };
  }
  if (p.yLabelAt !== undefined) {
    scales.yl = {
      type: 'linear', axis: 'y', position: {x: p.yLabelAt}, min: p.yMin, max: p.yMax,
      afterBuildTicks: s => { s.ticks = p.yTicks.map(v => ({value: v})); },
      ticks: {callback: fmt, font: tickFont, color: '#000', padding: 0, autoSkip: false, z: 1},
      grid: {display: false, drawTicks: false}, border: {display: false}
    };
  }
  return new Chart(document.getElementById(id), {
    type: 'line',
    data: {datasets},
    options: {
      responsive: false, animation: false, devicePixelRatio: 1,
      layout: {padding: {left: 0, right: p.padRight, top: p.padTop, bottom: 0}},
      scales,
      plugins: {
        legend: {display: false}, tooltip: {enabled: false}, title: {display: false},
        panelTitle: {text: p.title, x: p.titleX, y: p.titleY, size: 32.5},
        eomArrows: {arrows: p.arrows, labels: p.labels || [], color: '#0B2260', width: 5.5, head: 28, fontSize: 28.5}
      }
    },
    plugins: [framePlugin, titlePlugin, arrowPlugin]
  });
}

buildChart('c1', {
  title: 'PD triggered, 300 ns PW', titleX: 334.5, titleY: 63,
  blue: pdShortBlue, red: pdShortRed, green: pdShortGreen,
  xMin: -0.5, xMax: 2.0, xTicks: pdShortXTicks, yMin: -0.2, yMax: 0.6, yTicks: pdShortYTicks,
  yWidth: 145, padRight: 42, padTop: 68, xtHeight: 72,
  xLabelPad: 25.1, yLabelPad: 21, yDrawTicks: true, yTitlePad: 18.6, xTitlePad: 20
});
buildChart('c2', {
  title: 'PD triggered, 1 µs PW', titleX: 328.25, titleY: 62,
  blue: pdLongBlue, red: pdLongRed, green: pdLongGreen,
  xMin: -0.5, xMax: 2.5, xTicks: pdLongXTicks, yMin: -0.4, yMax: 1.6, yTicks: pdLongYTicks,
  yWidth: 138, padRight: 53, padTop: 76, xtHeight: 70,
  xLabelPad: 23.6, yLabelPad: 20, yDrawTicks: true, yTitlePad: 10.85, xTitlePad: 3
});
buildChart('c3', {
  title: 'DAC triggered, 300 ns PW', titleX: 335.25, titleY: 60,
  blue: dacShortBlue, red: dacShortRed, green: dacShortGreen,
  xMin: -0.5, xMax: 2.0, xTicks: dacShortXTicks, yMin: -0.1, yMax: 0.2, yTicks: dacShortYTicks,
  yWidth: 111, padRight: 38, padTop: 62, xtHeight: 63,
  xLabelPad: 25.1, yLabelPad: 20.75, yDrawTicks: true, yTitlePad: 10.35, xTitlePad: 3
});
buildChart('c4', {
  title: 'DAC triggered, 1 µs PW', titleX: 328, titleY: 60,
  blue: dacLongBlue, red: dacLongRed, green: dacLongGreen,
  xMin: -1.0, xMax: 2.0, xTicks: dacLongXTicks, yMin: -0.1, yMax: 0.4, yTicks: dacLongYTicks,
  yWidth: 69, padRight: 54, padTop: 76, xtHeight: 67,
  xLabelPad: 22.6, yLabelPad: 0, yDrawTicks: false, yAxisAt: -0.5, yLabelAt: -0.68, yTitlePad: 27.85, xTitlePad: 0,
  arrows: eomArrows, labels: eomLabels
});
</script>
</body></html>
